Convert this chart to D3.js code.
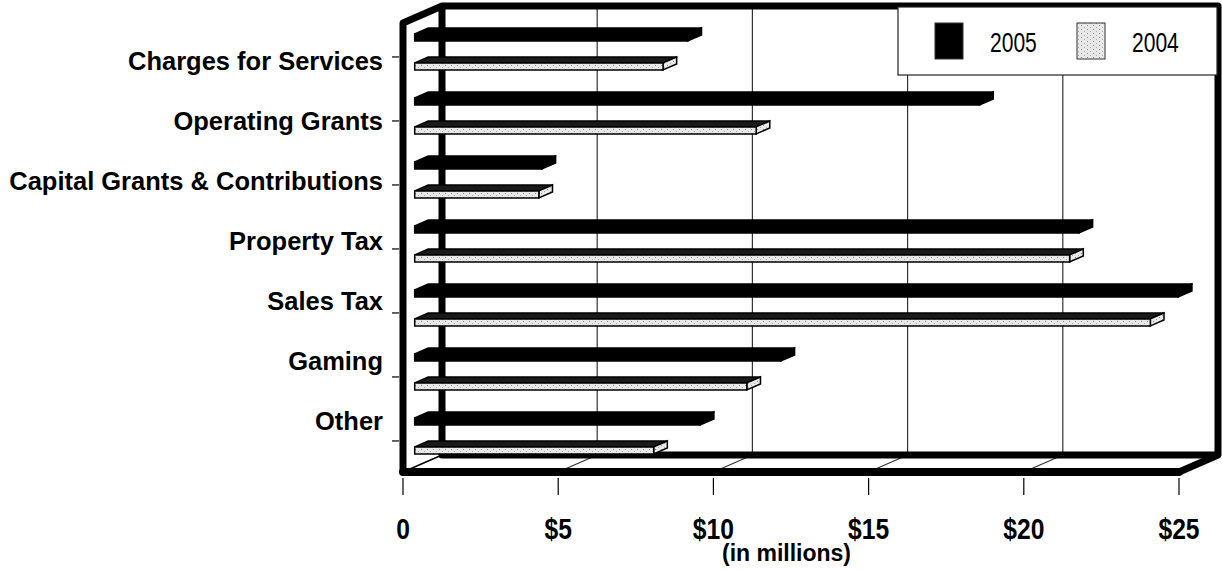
<!DOCTYPE html>
<html>
<head>
<meta charset="utf-8">
<script src="https://cdn.jsdelivr.net/npm/d3@7"></script>
<style>
body { margin: 0; background: #fff; }
svg { display: block; }
text { font-family: "Liberation Sans", Arial, sans-serif; fill: #000; }
</style>
</head>
<body>
<svg width="1222" height="571"></svg>
<script>
var categories = ["Charges for Services", "Operating Grants", "Capital Grants & Contributions",
                  "Property Tax", "Sales Tax", "Gaming", "Other"];
var series = ["2005", "2004"];
var values2005 = [8.8, 18.2, 4.1, 21.4, 24.6, 11.8, 9.2];
var values2004 = [8.0, 11.0, 4.0, 21.1, 23.7, 10.7, 7.7];
var xTicks = [0, 5, 10, 15, 20, 25];
var xTickLabels = ["0", "$5", "$10", "$15", "$20", "$25"];

var svg = d3.select("svg");

// oblique 3d: depth z in [0,1] shifts points right and up
var DX = 39, DY = -17;
var topY = 23, floorY = 472;
var x = d3.scaleLinear().domain([0, 25]).range([403, 1179]);
var y = d3.scaleBand().domain(categories).range([39, 39 + 448]);
var ySub = d3.scaleBand().domain(series).range([0, 58]);
var yLabel = d3.scalePoint().domain(categories).range([70, 430]);

function p(v, yy, z) { return [x(v) + z * DX, yy + z * DY]; }
function pts(a) { return a.map(function(d) { return d.join(","); }).join(" "); }

var defs = svg.append("defs");
var pat = defs.append("pattern")
    .attr("id", "dots")
    .attr("width", 6).attr("height", 4)
    .attr("patternUnits", "userSpaceOnUse");
pat.append("rect").attr("width", 6).attr("height", 4).attr("fill", "#e8e8e8");
pat.append("rect").attr("x", 1).attr("y", 1).attr("width", 1).attr("height", 1).attr("fill", "#888");
pat.append("rect").attr("x", 4).attr("y", 3).attr("width", 1).attr("height", 1).attr("fill", "#aaa");

// walls
var x0 = 0, x1 = 25;
var walls = svg.append("g");
walls.append("polygon")
    .attr("points", pts([p(x0, topY, 1), p(x1, topY, 1), p(x1, floorY, 1), p(x0, floorY, 1)]))
    .attr("fill", "#fff");

// back wall grid lines
walls.selectAll(".grid")
    .data(xTicks.slice(1, -1))
    .enter().append("line")
      .attr("x1", function(d) { return x(d) + DX; })
      .attr("x2", function(d) { return x(d) + DX; })
      .attr("y1", topY + DY)
      .attr("y2", floorY + DY)
      .attr("stroke", "#333")
      .attr("stroke-width", 1.2);

// floor grid lines
walls.selectAll(".fgrid")
    .data(xTicks.slice(1, -1))
    .enter().append("line")
      .attr("x1", function(d) { return x(d); })
      .attr("x2", function(d) { return x(d) + DX; })
      .attr("y1", floorY)
      .attr("y2", floorY + DY)
      .attr("stroke", "#333")
      .attr("stroke-width", 1.2);

walls.append("line")
    .attr("x1", x(0)).attr("y1", floorY)
    .attr("x2", x(0) + DX).attr("y2", floorY + DY)
    .attr("stroke", "#000").attr("stroke-width", 1.5);

// thick box edges
var thick = [
  [p(x0, floorY, 0), p(x0, topY, 0), p(x0, topY, 1), p(x1, topY, 1), p(x1, floorY, 1), p(x1, floorY, 0)],
  [p(x0, topY, 1), p(x0, floorY, 1), p(x1, floorY, 1)]
];
walls.selectAll(".edge")
    .data(thick)
    .enter().append("polyline")
      .attr("points", pts)
      .attr("fill", "none")
      .attr("stroke", "#000")
      .attr("stroke-width", 7)
      .attr("stroke-linejoin", "round");
walls.append("line")
    .attr("x1", x(0)).attr("y1", floorY)
    .attr("x2", x(25)).attr("y2", floorY)
    .attr("stroke", "#000").attr("stroke-width", 8).attr("stroke-linecap", "round");

// bars
var zf = 0.3, zb = 0.65, H = 7;
var rows = [];
categories.forEach(function(c, i) {
  rows.push({cat: c, s: "2005", v: values2005[i]});
  rows.push({cat: c, s: "2004", v: values2004[i]});
});

var bar = svg.append("g").selectAll("g")
    .data(rows)
    .enter().append("g");

bar.each(function(d) {
  var g = d3.select(this);
  var Y = y(d.cat) + ySub(d.s);
  var dark = d.s === "2005";
  var front = [p(0, Y, zf), p(d.v, Y, zf), p(d.v, Y + H, zf), p(0, Y + H, zf)];
  var top = [p(0, Y, zf), p(d.v, Y, zf), p(d.v, Y, zb), p(0, Y, zb)];
  var side = [p(d.v, Y, zf), p(d.v, Y, zb), p(d.v, Y + H, zb), p(d.v, Y + H, zf)];
  g.append("polygon").attr("points", pts(top))
      .attr("fill", dark ? "#000" : "#1a1a1a").attr("stroke", "#000").attr("stroke-width", 1.5)
      .attr("stroke-linejoin", "round");
  g.append("polygon").attr("points", pts(side))
      .attr("fill", dark ? "#000" : "url(#dots)").attr("stroke", "#000").attr("stroke-width", 1.5);
  g.append("polygon").attr("points", pts(front))
      .attr("fill", dark ? "#000" : "url(#dots)").attr("stroke", "#000").attr("stroke-width", 1.5);
});

// category ticks and labels
svg.append("g").selectAll("line")
    .data(categories)
    .enter().append("line")
      .attr("x1", 392).attr("x2", 399)
      .attr("y1", function(d) { return y(d) + ySub("2004") + zb * DY; })
      .attr("y2", function(d) { return y(d) + ySub("2004") + zb * DY; })
      .attr("stroke", "#000").attr("stroke-width", 1.2);

svg.append("g").selectAll("text")
    .data(categories)
    .enter().append("text")
      .attr("transform", function(d) { return "translate(383," + yLabel(d) + ") scale(1.02,1.05)"; })
      .attr("text-anchor", "end")
      .style("font-size", "25px")
      .style("font-weight", "bold")
      .text(function(d) { return d; });

// x axis ticks and labels
svg.append("g").selectAll("line")
    .data(xTicks)
    .enter().append("line")
      .attr("x1", function(d) { return x(d); })
      .attr("x2", function(d) { return x(d); })
      .attr("y1", 478).attr("y2", 495)
      .attr("stroke", "#000").attr("stroke-width", 1.2);

svg.append("g").selectAll("text")
    .data(xTicks)
    .enter().append("text")
      .attr("transform", function(d) { return "translate(" + x(d) + ",539) scale(0.85,1)"; })
      .attr("text-anchor", "middle")
      .style("font-size", "29px")
      .style("font-weight", "bold")
      .text(function(d, i) { return xTickLabels[i]; });

svg.append("text")
    .attr("transform", "translate(722,561) scale(1,1.05)")
    .style("font-size", "23px")
    .style("font-weight", "bold")
    .text("(in millions)");

// legend
var legend = svg.append("g");
legend.append("rect")
    .attr("x", 898).attr("y", 7).attr("width", 319).attr("height", 68)
    .attr("fill", "#fff").attr("stroke", "#222").attr("stroke-width", 1.2);
var legendX = [935, 1077];
series.forEach(function(s, i) {
  legend.append("rect")
      .attr("x", legendX[i]).attr("y", 23).attr("width", 28).attr("height", 36)
      .attr("fill", i === 0 ? "#000" : "url(#dots)")
      .attr("stroke", "#333").attr("stroke-width", 1);
  legend.append("text")
      .attr("transform", "translate(" + (legendX[i] + 55) + ",52) scale(0.78,1)")
      .style("font-size", "27px")
      .text(s);
});
</script>
</body>
</html>
